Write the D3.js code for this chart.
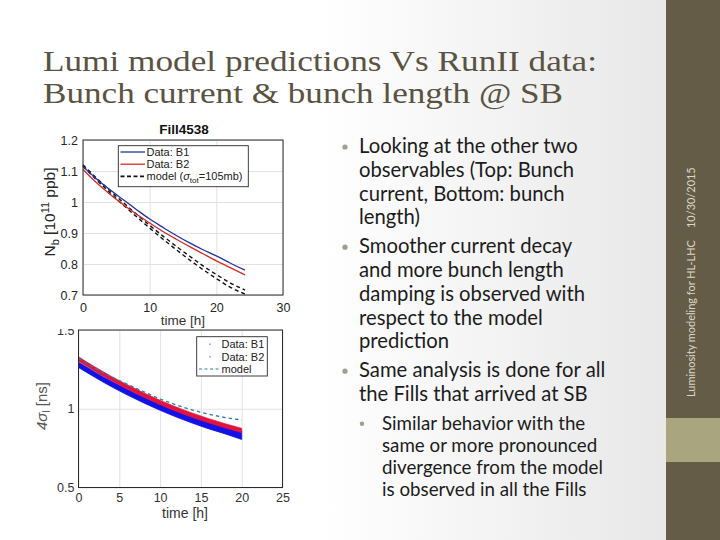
<!DOCTYPE html>
<html><head><meta charset="utf-8">
<script src="https://cdn.jsdelivr.net/npm/d3@7"></script>
<style>html,body{margin:0;padding:0;overflow:hidden;background:#fff}</style>
</head><body><svg id="s" width="720" height="540"></svg>
<script>
// ---------- slide text ----------
const titleLines = ["Lumi model predictions Vs RunII data:", "Bunch current & bunch length @ SB"];
const footerText = "Luminosity modeling for HL-LHC";
const dateText = "10/30/2015";
const bulletItems = [
  {level: 1, lines: ["Looking at the other two", "observables (Top: Bunch", "current, Bottom: bunch", "length)"]},
  {level: 1, lines: ["Smoother current decay", "and more bunch length", "damping is observed with", "respect to the model", "prediction"]},
  {level: 1, lines: ["Same analysis is done for all", "the Fills that arrived at SB"]},
  {level: 2, lines: ["Similar behavior with the", "same or more pronounced", "divergence from the model", "is observed in all the Fills"]}
];

// ---------- top chart: bunch current ----------
const topTitle = "Fill4538";
const topTime      = [0, 2, 4, 6, 8, 10, 12, 14, 16, 18, 20, 22, 24.3];
const topB1        = [1.115, 1.075, 1.040, 1.008, 0.976, 0.945, 0.918, 0.892, 0.868, 0.846, 0.826, 0.804, 0.780];
const topB2        = [1.105, 1.063, 1.026, 0.992, 0.961, 0.932, 0.905, 0.880, 0.856, 0.833, 0.810, 0.789, 0.765];
const topModelHigh = [1.120, 1.078, 1.038, 0.999, 0.961, 0.925, 0.890, 0.857, 0.825, 0.794, 0.766, 0.740, 0.716];
const topModelLow  = [1.115, 1.072, 1.031, 0.991, 0.953, 0.916, 0.880, 0.846, 0.813, 0.782, 0.753, 0.726, 0.703];
const topXTicks = [0, 10, 20, 30];
const topYTicks = [0.7, 0.8, 0.9, 1.0, 1.1, 1.2];
const topLegend = ["Data: B1", "Data: B2", "model"];

// ---------- bottom chart: bunch length ----------
const botTime    = [0, 2, 4, 6, 8, 10, 12, 14, 16, 18, 20];
const botB1Upper = [1.295, 1.234, 1.176, 1.122, 1.073, 1.028, 0.987, 0.950, 0.916, 0.886, 0.860];
const botB1Lower = [1.262, 1.200, 1.141, 1.087, 1.037, 0.990, 0.947, 0.908, 0.872, 0.840, 0.805];
const botB2Upper = [1.330, 1.266, 1.207, 1.152, 1.101, 1.054, 1.011, 0.972, 0.937, 0.905, 0.876];
const botB2Lower = [1.302, 1.238, 1.179, 1.124, 1.073, 1.026, 0.983, 0.944, 0.909, 0.877, 0.848];
const botModel   = [1.320, 1.258, 1.203, 1.155, 1.108, 1.062, 1.024, 0.992, 0.965, 0.944, 0.929];
const botXTicks = [0, 5, 10, 15, 20, 25];
const botYTicks = [0.5, 1, 1.5];
const botLegend = ["Data: B1", "Data: B2", "model"];

// ---------- drawing ----------
const svg = d3.select("#s");
const defs = svg.append("defs");
const grad = defs.append("linearGradient").attr("id", "bg").attr("x1", 0).attr("x2", 1).attr("y1", 0).attr("y2", 0);
grad.append("stop").attr("offset", "0.45").attr("stop-color", "#ffffff");
grad.append("stop").attr("offset", "0.85").attr("stop-color", "#ebebeb");
grad.append("stop").attr("offset", "1").attr("stop-color", "#e5e5e5");
svg.append("rect").attr("width", 720).attr("height", 540).attr("fill", "url(#bg)");

// sidebar
svg.append("rect").attr("x", 666).attr("y", 0).attr("width", 54).attr("height", 540).attr("fill", "#655c47");
svg.append("rect").attr("x", 666).attr("y", 418).attr("width", 54).attr("height", 44).attr("fill", "#a9a57f");
const sideFont = "Lato, 'Open Sans', sans-serif";
const ft = svg.append("text").attr("transform", "translate(695,397) rotate(-90)")
  .style("font-family", sideFont).style("font-size", "12px").attr("fill", "#dcd8c8").text(footerText);
const sideSize = 12 * 157 / ft.node().getComputedTextLength();
ft.style("font-size", sideSize + "px");
svg.append("text").attr("transform", "translate(695,228) rotate(-90)")
  .style("font-family", sideFont).style("font-size", sideSize + "px").attr("fill", "#dcd8c8").text(dateText);

// title
const titleTargets = [554, 520];
titleLines.forEach((t, i) => {
  svg.append("text").attr("x", 43).attr("y", 71 + i * 32)
    .style("font-family", "'Liberation Serif', 'DejaVu Serif', serif").style("font-size", "29px")
    .attr("fill", "#5a5343").attr("textLength", titleTargets[i]).attr("lengthAdjust", "spacingAndGlyphs").text(t);
});

// body bullets
const bodyFont = "Lato, 'Open Sans', sans-serif";
const probe = svg.append("text").style("font-family", bodyFont).style("font-size", "20px").text(bulletItems[0].lines[0]);
const size1 = 20 * 219 / probe.node().getComputedTextLength();
probe.style("font-size", "17px").text(bulletItems[3].lines[2]);
const size2 = 17 * 221 / probe.node().getComputedTextLength();
probe.remove();
let yb = 153;
bulletItems.forEach((item, k) => {
  const lvl2 = item.level === 2;
  const step = lvl2 ? 22 : 23.8;
  if (k > 0) yb += 5;
  const bx = lvl2 ? 359 : 342, tx = lvl2 ? 382 : 359;
  svg.append("circle").attr("cx", bx + 3).attr("cy", yb - 6).attr("r", lvl2 ? 2.2 : 2.6).attr("fill", "#a39d8b");
  item.lines.forEach(ln => {
    svg.append("text").attr("x", tx).attr("y", yb).style("font-family", bodyFont)
      .style("font-size", (lvl2 ? size2 : size1) + "px").attr("fill", "#1c1c1c").text(ln);
    yb += step;
  });
});

const chartFont = "'Liberation Sans', Arial, sans-serif";
const fmt = d => d3.format(".1f")(d).replace(/\.0$/, "");

function frame(g, x, y, xTicks, yTicks, xpad, ypad, txtColor) {
  const [x0, x1] = x.range(), [y0, y1] = y.range();
  g.append("g").attr("transform", `translate(0,${y0})`)
    .call(d3.axisBottom(x).tickValues(xTicks).tickSize(-(y0 - y1)).tickFormat(""))
    .call(a => a.select(".domain").remove())
    .selectAll("line").attr("stroke", "#e2e2e2");
  g.append("g").attr("transform", `translate(${x0},0)`)
    .call(d3.axisLeft(y).tickValues(yTicks).tickSize(-(x1 - x0)).tickFormat(""))
    .call(a => a.select(".domain").remove())
    .selectAll("line").attr("stroke", "#e2e2e2");
  g.append("g").attr("transform", `translate(0,${y0})`)
    .call(d3.axisBottom(x).tickValues(xTicks).tickSize(0).tickPadding(xpad).tickFormat(d => d))
    .call(a => a.select(".domain").remove())
    .selectAll("text").style("font-family", chartFont).style("font-size", "12.5px").attr("fill", txtColor);
  g.append("g").attr("transform", `translate(${x0},0)`)
    .call(d3.axisLeft(y).tickValues(yTicks).tickSize(0).tickPadding(ypad).tickFormat(fmt))
    .call(a => a.select(".domain").remove())
    .selectAll("text").style("font-family", chartFont).style("font-size", "12.5px").attr("fill", txtColor);
}

// ===== bottom chart =====
const gb = svg.append("g");
const xb = d3.scaleLinear().domain([0, 25]).range([78.5, 282.5]);
const yB = d3.scaleLinear().domain([0.5, 1.5]).range([487.5, 330]);
frame(gb, xb, yB, botXTicks, botYTicks, 6, 4, "#333");
const areaB = (up, lo) => d3.area().x((d, i) => xb(botTime[i])).y0((d, i) => yB(lo[i])).y1((d, i) => yB(up[i])).curve(d3.curveMonotoneX)(up);
gb.append("path").attr("d", areaB(botB1Upper, botB1Lower)).attr("fill", "#1212e8").attr("stroke", "#1212e8").attr("stroke-width", 0.8);
gb.append("path").attr("d", areaB(botB2Upper, botB2Lower)).attr("fill", "#e0143c").attr("stroke", "#e0143c").attr("stroke-width", 0.6);
gb.append("path").attr("d", d3.line().x((d, i) => xb(botTime[i])).y(d => yB(d)).curve(d3.curveMonotoneX)(botModel))
  .attr("fill", "none").attr("stroke", "#2e7ea0").attr("stroke-width", 1.3).attr("stroke-dasharray", "3.5,3");
gb.append("rect").attr("x", 78.5).attr("y", 330).attr("width", 204).attr("height", 157.5).attr("fill", "none").attr("stroke", "#2a2a2a").attr("stroke-width", 1);
// legend
const lgB = gb.append("g");
lgB.append("rect").attr("x", 196.7).attr("y", 336.7).attr("width", 70.6).attr("height", 39.3).attr("fill", "#fff").attr("stroke", "#2a2a2a").attr("stroke-width", 0.9);
const lbColors = ["#9fb0e8", "#c7a0c8"];
botLegend.forEach((t, i) => {
  const ly = 344.3 + i * 12.35;
  if (i < 2) lgB.append("circle").attr("cx", 210).attr("cy", ly).attr("r", 1).attr("fill", lbColors[i]);
  else lgB.append("line").attr("x1", 199).attr("x2", 219).attr("y1", ly).attr("y2", ly).attr("stroke", "#2e7ea0").attr("stroke-width", 1.2).attr("stroke-dasharray", "3,2.5");
  lgB.append("text").attr("x", 221.5).attr("y", ly + 4).style("font-family", chartFont).style("font-size", "11px").attr("fill", "#222").text(t);
});
gb.append("text").attr("x", 185).attr("y", 518).attr("text-anchor", "middle").style("font-family", chartFont).style("font-size", "14px").attr("fill", "#333").text("time [h]");
const ylB = gb.append("text").attr("transform", "translate(47,406) rotate(-90)").attr("text-anchor", "middle")
  .style("font-family", chartFont).style("font-size", "15px").attr("fill", "#555");
ylB.append("tspan").style("font-style", "italic").text("4σ");
ylB.append("tspan").attr("dy", 3).style("font-size", "10px").text("l");
ylB.append("tspan").attr("dy", -3).text(" [ns]");

// ===== top chart (image overlaps the bottom one) =====
svg.append("rect").attr("x", 36).attr("y", 115).attr("width", 264).attr("height", 214).attr("fill", "#fff");
const gt = svg.append("g");
const xt = d3.scaleLinear().domain([0, 30]).range([83, 283]);
const yt = d3.scaleLinear().domain([0.7, 1.2]).range([295, 140]);
frame(gt, xt, yt, topXTicks, topYTicks, 8, 5, "#262626");
const lineT = d3.line().x((d, i) => xt(topTime[i])).y(d => yt(d)).curve(d3.curveMonotoneX);
gt.append("path").attr("d", lineT(topModelHigh)).attr("fill", "none").attr("stroke", "#111").attr("stroke-width", 1.4).attr("stroke-dasharray", "4,3");
gt.append("path").attr("d", lineT(topModelLow)).attr("fill", "none").attr("stroke", "#111").attr("stroke-width", 1.4).attr("stroke-dasharray", "4,3");
gt.append("path").attr("d", lineT(topB2)).attr("fill", "none").attr("stroke", "#d62a2a").attr("stroke-width", 1.3);
gt.append("path").attr("d", lineT(topB1)).attr("fill", "none").attr("stroke", "#2035a6").attr("stroke-width", 1.3);
gt.append("rect").attr("x", 83).attr("y", 140).attr("width", 200).attr("height", 155).attr("fill", "none").attr("stroke", "#2a2a2a").attr("stroke-width", 1);
gt.append("text").attr("x", 184).attr("y", 134).attr("text-anchor", "middle").style("font-family", chartFont)
  .style("font-size", "13.5px").style("font-weight", "bold").attr("fill", "#111").text(topTitle);
// legend
const lgT = gt.append("g");
lgT.append("rect").attr("x", 118.3).attr("y", 145.7).attr("width", 130).attr("height", 41).attr("fill", "#fff").attr("stroke", "#2a2a2a").attr("stroke-width", 0.9);
const ltStyles = [["#2035a6", null], ["#d62a2a", null], ["#111", "4,2.5"]];
topLegend.forEach((t, i) => {
  const ly = 152 + i * 12.2;
  lgT.append("line").attr("x1", 120.5).attr("x2", 145).attr("y1", ly).attr("y2", ly)
    .attr("stroke", ltStyles[i][0]).attr("stroke-width", i === 2 ? 1.8 : 1.3).attr("stroke-dasharray", ltStyles[i][1]);
  const tx = lgT.append("text").attr("x", 146.5).attr("y", ly + 4).style("font-family", chartFont).style("font-size", "11px").attr("fill", "#222").text(t);
  if (i === 2) {
    tx.append("tspan").text(" (");
    tx.append("tspan").style("font-style", "italic").text("σ");
    tx.append("tspan").attr("dy", 3).style("font-size", "8px").text("tot");
    tx.append("tspan").attr("dy", -3).text("=105mb)");
  }
});
gt.append("text").attr("x", 183).attr("y", 325).attr("text-anchor", "middle").style("font-family", chartFont).style("font-size", "13.5px").attr("fill", "#333").text("time [h]");
const ylT = gt.append("text").attr("transform", "translate(55,212) rotate(-90)").attr("text-anchor", "middle")
  .style("font-family", chartFont).style("font-size", "15.5px").attr("fill", "#262626");
ylT.append("tspan").text("N");
ylT.append("tspan").attr("dy", 4).style("font-size", "11px").text("b");
ylT.append("tspan").attr("dy", -4).text(" [10");
ylT.append("tspan").attr("dy", -6).style("font-size", "11px").text("11");
ylT.append("tspan").attr("dy", 6).text(" ppb]");
</script></body></html>
